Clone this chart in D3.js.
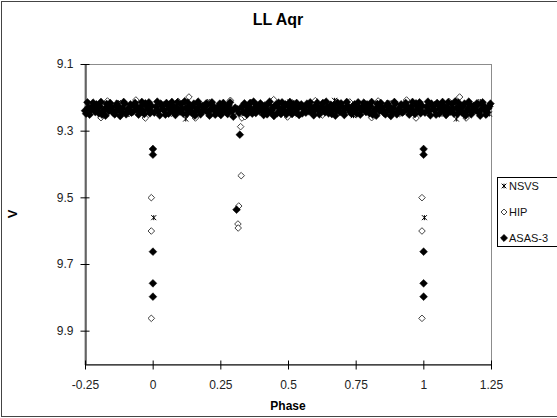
<!DOCTYPE html>
<html>
<head>
<meta charset="utf-8">
<script src="https://cdn.jsdelivr.net/npm/d3@7"></script>
<style>
  body { margin: 0; background: #fff; }
  svg { display: block; font-family: "Liberation Sans", Arial, sans-serif; }
</style>
</head>
<body>
<div id="chart"></div>
<script>
// phase-folded points, base cycle in [0,1); the plot repeats them from -0.25 to 1.25
const nsvs = [
  [0.004, 9.561], [0.031, 9.232], [0.064, 9.218], [0.097, 9.245], [0.122, 9.265],
  [0.152, 9.224], [0.179, 9.239], [0.211, 9.213], [0.244, 9.250], [0.276, 9.228],
  [0.332, 9.236], [0.371, 9.219], [0.405, 9.247], [0.438, 9.226], [0.466, 9.240],
  [0.507, 9.214], [0.539, 9.252], [0.569, 9.231], [0.606, 9.222], [0.641, 9.244],
  [0.672, 9.209], [0.711, 9.236], [0.742, 9.255], [0.776, 9.220], [0.805, 9.241],
  [0.839, 9.229], [0.873, 9.216], [0.907, 9.248], [0.941, 9.230], [0.968, 9.222]
];

const hip = [
  [0.995, 9.501], [0.995, 9.601], [0.995, 9.863],
  [0.325, 9.288], [0.327, 9.435], [0.318, 9.526], [0.315, 9.580], [0.316, 9.592],
  [0.018, 9.236], [0.043, 9.221], [0.069, 9.248], [0.094, 9.212], [0.121, 9.240],
  [0.134, 9.199], [0.158, 9.262], [0.186, 9.229], [0.209, 9.217], [0.234, 9.250],
  [0.262, 9.226], [0.287, 9.209], [0.303, 9.244], [0.330, 9.262], [0.341, 9.258],
  [0.366, 9.215], [0.398, 9.237], [0.424, 9.249], [0.447, 9.207], [0.473, 9.231],
  [0.498, 9.259], [0.521, 9.218], [0.552, 9.243], [0.574, 9.227], [0.601, 9.210],
  [0.627, 9.253], [0.648, 9.232], [0.676, 9.219], [0.703, 9.245], [0.728, 9.214],
  [0.757, 9.238], [0.784, 9.226], [0.809, 9.261], [0.833, 9.211], [0.861, 9.240],
  [0.887, 9.222], [0.912, 9.249], [0.938, 9.208], [0.962, 9.233], [0.973, 9.262]
];

const asas = [
  [0.001, 9.355], [0.001, 9.372], [0.001, 9.663], [0.001, 9.758], [0.001, 9.798],
  [0.322, 9.312], [0.310, 9.537],
  [0.012, 9.228], [0.021, 9.241], [0.030, 9.219], [0.038, 9.236], [0.047, 9.252],
  [0.055, 9.224], [0.063, 9.233], [0.071, 9.214], [0.080, 9.245], [0.088, 9.230],
  [0.097, 9.238], [0.105, 9.221], [0.113, 9.249], [0.122, 9.232], [0.130, 9.216],
  [0.139, 9.240], [0.147, 9.227], [0.156, 9.255], [0.164, 9.235], [0.172, 9.222],
  [0.181, 9.243], [0.189, 9.231], [0.198, 9.218], [0.206, 9.247], [0.214, 9.236],
  [0.223, 9.225], [0.231, 9.252], [0.240, 9.233], [0.248, 9.219], [0.256, 9.241],
  [0.265, 9.228], [0.273, 9.246], [0.281, 9.223], [0.290, 9.237], [0.298, 9.258],
  [0.305, 9.231], [0.313, 9.236], [0.319, 9.247], [0.328, 9.229],
  [0.335, 9.244], [0.343, 9.226], [0.352, 9.238], [0.360, 9.217],
  [0.368, 9.249], [0.377, 9.232], [0.385, 9.224], [0.394, 9.241], [0.402, 9.229],
  [0.410, 9.253], [0.419, 9.235], [0.427, 9.220], [0.436, 9.244], [0.444, 9.231],
  [0.452, 9.226], [0.461, 9.247], [0.469, 9.234], [0.478, 9.215], [0.486, 9.239],
  [0.494, 9.251], [0.503, 9.228], [0.511, 9.236], [0.519, 9.221], [0.528, 9.245],
  [0.536, 9.233], [0.545, 9.226], [0.553, 9.248], [0.561, 9.237], [0.570, 9.219],
  [0.578, 9.242], [0.587, 9.230], [0.595, 9.254], [0.603, 9.224], [0.612, 9.238],
  [0.620, 9.232], [0.629, 9.217], [0.637, 9.245], [0.645, 9.229], [0.654, 9.236],
  [0.662, 9.250], [0.671, 9.223], [0.679, 9.240], [0.687, 9.233], [0.696, 9.218],
  [0.704, 9.246], [0.712, 9.231], [0.721, 9.226], [0.729, 9.243], [0.738, 9.235],
  [0.746, 9.221], [0.754, 9.249], [0.763, 9.230], [0.771, 9.238], [0.780, 9.216],
  [0.788, 9.244], [0.796, 9.232], [0.805, 9.227], [0.813, 9.252], [0.822, 9.236],
  [0.830, 9.220], [0.838, 9.241], [0.847, 9.229], [0.855, 9.247], [0.864, 9.225],
  [0.872, 9.238], [0.880, 9.256], [0.889, 9.233], [0.897, 9.219], [0.906, 9.242],
  [0.914, 9.230], [0.922, 9.246], [0.931, 9.224], [0.939, 9.237], [0.948, 9.252],
  [0.956, 9.228], [0.964, 9.241], [0.973, 9.218], [0.981, 9.235], [0.990, 9.248],
  [0.996, 9.226],
  [0.006, 9.246], [0.017, 9.213], [0.026, 9.254], [0.034, 9.227], [0.043, 9.239],
  [0.051, 9.217], [0.059, 9.249], [0.067, 9.236], [0.076, 9.226], [0.084, 9.253],
  [0.092, 9.215], [0.101, 9.243], [0.109, 9.234], [0.118, 9.212], [0.126, 9.250],
  [0.135, 9.229], [0.143, 9.246], [0.152, 9.219], [0.160, 9.242], [0.168, 9.213],
  [0.177, 9.251], [0.185, 9.226], [0.194, 9.239], [0.202, 9.222], [0.210, 9.255],
  [0.219, 9.215], [0.227, 9.238], [0.236, 9.245], [0.244, 9.227], [0.252, 9.253],
  [0.261, 9.217], [0.269, 9.235], [0.277, 9.250], [0.286, 9.215], [0.294, 9.242],
  [0.339, 9.218], [0.348, 9.252], [0.356, 9.229], [0.364, 9.240], [0.373, 9.213],
  [0.381, 9.247], [0.390, 9.236], [0.398, 9.218], [0.406, 9.242], [0.415, 9.224],
  [0.423, 9.251], [0.432, 9.213], [0.440, 9.239], [0.448, 9.256], [0.457, 9.222],
  [0.465, 9.216], [0.474, 9.250], [0.482, 9.228], [0.490, 9.221], [0.499, 9.243],
  [0.507, 9.214], [0.515, 9.250], [0.524, 9.231], [0.532, 9.217], [0.541, 9.253],
  [0.549, 9.221], [0.557, 9.230], [0.566, 9.246], [0.574, 9.225], [0.582, 9.215],
  [0.591, 9.248], [0.599, 9.239], [0.608, 9.216], [0.616, 9.251], [0.624, 9.226],
  [0.633, 9.240], [0.641, 9.213], [0.650, 9.248], [0.658, 9.222], [0.666, 9.234],
  [0.675, 9.255], [0.683, 9.216], [0.692, 9.244], [0.700, 9.228], [0.708, 9.253],
  [0.717, 9.214], [0.725, 9.237], [0.734, 9.249], [0.742, 9.227], [0.750, 9.240],
  [0.759, 9.215], [0.767, 9.252], [0.776, 9.227], [0.784, 9.233], [0.792, 9.221],
  [0.801, 9.248], [0.809, 9.214], [0.818, 9.241], [0.826, 9.255], [0.834, 9.229],
  [0.843, 9.217], [0.851, 9.237], [0.860, 9.251], [0.868, 9.219], [0.876, 9.228],
  [0.885, 9.245], [0.893, 9.214], [0.902, 9.251], [0.910, 9.236], [0.918, 9.221],
  [0.927, 9.243], [0.935, 9.217], [0.944, 9.230], [0.952, 9.239], [0.960, 9.214],
  [0.969, 9.250], [0.977, 9.226], [0.986, 9.215], [0.993, 9.241]
];

const xTicks = [-0.25, 0, 0.25, 0.5, 0.75, 1, 1.25];
const yTicks = [9.1, 9.3, 9.5, 9.7, 9.9];
const seriesNames = ["NSVS", "HIP", "ASAS-3"];

const width = 557;
const height = 418;
const plot = { left: 85, right: 491, top: 64, bottom: 364 };

const x = d3.scaleLinear().domain([-0.25, 1.25]).range([plot.left, plot.right]);
const y = d3.scaleLinear().domain([9.1, 10.0]).range([plot.top, plot.bottom]);

// repeat each folded point into the extra quarter cycles on both sides
function unfold(points) {
  const out = [];
  points.forEach(([p, v]) => {
    out.push([p, v]);
    if (p + 1 <= 1.25) out.push([p + 1, v]);
    if (p - 1 >= -0.25) out.push([p - 1, v]);
  });
  return out;
}

const diamond = r => `M0,${-r}L${r},0L0,${r}L${-r},0Z`;
const star = r => `M${-r},${-r}L${r},${r}M${-r},${r}L${r},${-r}M0,${-r}L0,${r}`;

const svg = d3.create("svg").attr("width", width).attr("height", height);

svg.append("rect")
  .attr("x", 1.5).attr("y", 1.5)
  .attr("width", 600).attr("height", height - 3)
  .attr("fill", "#fff").attr("stroke", "#444");

svg.append("rect")
  .attr("x", plot.left).attr("y", plot.top + 0.5)
  .attr("width", plot.right - plot.left + 0.5).attr("height", plot.bottom - plot.top)
  .attr("fill", "#fff").attr("stroke", "#8c8c8c");

// series, drawn in Excel order so ASAS-3 sits on top
svg.append("g")
  .selectAll("path")
  .data(unfold(nsvs))
  .join("path")
  .attr("transform", d => `translate(${x(d[0])},${y(d[1])})`)
  .attr("d", star(2.5))
  .attr("fill", "none")
  .attr("stroke", "#000");

svg.append("g")
  .selectAll("path")
  .data(unfold(hip))
  .join("path")
  .attr("transform", d => `translate(${x(d[0])},${y(d[1])})`)
  .attr("d", diamond(3.3))
  .attr("fill", "#fff")
  .attr("stroke", "#444");

svg.append("g")
  .selectAll("path")
  .data(unfold(asas))
  .join("path")
  .attr("transform", d => `translate(${x(d[0])},${y(d[1])})`)
  .attr("d", diamond(3.9))
  .attr("fill", "#000")
  .attr("stroke", "#000")
  .attr("stroke-width", 0.5);

const xAxis = svg.append("g")
  .attr("transform", `translate(0,${plot.bottom + 0.5})`)
  .call(d3.axisBottom(x).tickValues(xTicks).tickFormat(d => String(d)).tickSizeOuter(0));
xAxis.selectAll(".tick line").attr("y1", -4).attr("y2", 5);
xAxis.selectAll(".tick text").attr("y", 16);

const yAxis = svg.append("g")
  .attr("transform", `translate(${plot.left + 0.5},0)`)
  .call(d3.axisLeft(y).tickValues(yTicks).tickFormat(d3.format(".1f")).tickSizeOuter(0));
yAxis.selectAll(".tick line").attr("x1", 4).attr("x2", -5);
yAxis.selectAll(".tick text").attr("x", -12);

svg.selectAll(".domain").attr("stroke", "#000");
svg.selectAll(".tick line").attr("stroke", "#000");
svg.selectAll(".tick text")
  .attr("font-family", "'Liberation Sans', Arial, sans-serif")
  .attr("font-size", 12)
  .attr("fill", "#222");

svg.append("text")
  .attr("x", 278).attr("y", 25)
  .attr("text-anchor", "middle")
  .attr("font-size", 16).attr("font-weight", "bold")
  .text("LL Aqr");

svg.append("text")
  .attr("transform", `translate(17,${(plot.top + plot.bottom) / 2}) rotate(-90)`)
  .attr("text-anchor", "middle")
  .attr("font-size", 13).attr("font-weight", "bold")
  .text("V");

svg.append("text")
  .attr("x", (plot.left + plot.right) / 2).attr("y", 410)
  .attr("text-anchor", "middle")
  .attr("font-size", 12).attr("font-weight", "bold")
  .text("Phase");

// legend
const legend = svg.append("g").attr("transform", "translate(497,177)");
legend.append("rect")
  .attr("x", 0.5).attr("y", 0.5)
  .attr("width", 80).attr("height", 69)
  .attr("fill", "#fff").attr("stroke", "#000");

const markers = [
  { d: star(2.3), fill: "none", stroke: "#000" },
  { d: diamond(3), fill: "#fff", stroke: "#444" },
  { d: diamond(3.4), fill: "#000", stroke: "#000" }
];

const item = legend.selectAll("g.item")
  .data(seriesNames)
  .join("g")
  .attr("class", "item")
  .attr("transform", (d, i) => `translate(0,${9 + i * 26})`);

item.append("path")
  .attr("transform", "translate(7,0)")
  .attr("d", (d, i) => markers[i].d)
  .attr("fill", (d, i) => markers[i].fill)
  .attr("stroke", (d, i) => markers[i].stroke);

item.append("text")
  .attr("x", 12).attr("y", 4)
  .attr("font-size", 11)
  .attr("fill", "#111")
  .text(d => d);

d3.select("#chart").node().append(svg.node());
</script>
</body>
</html>
